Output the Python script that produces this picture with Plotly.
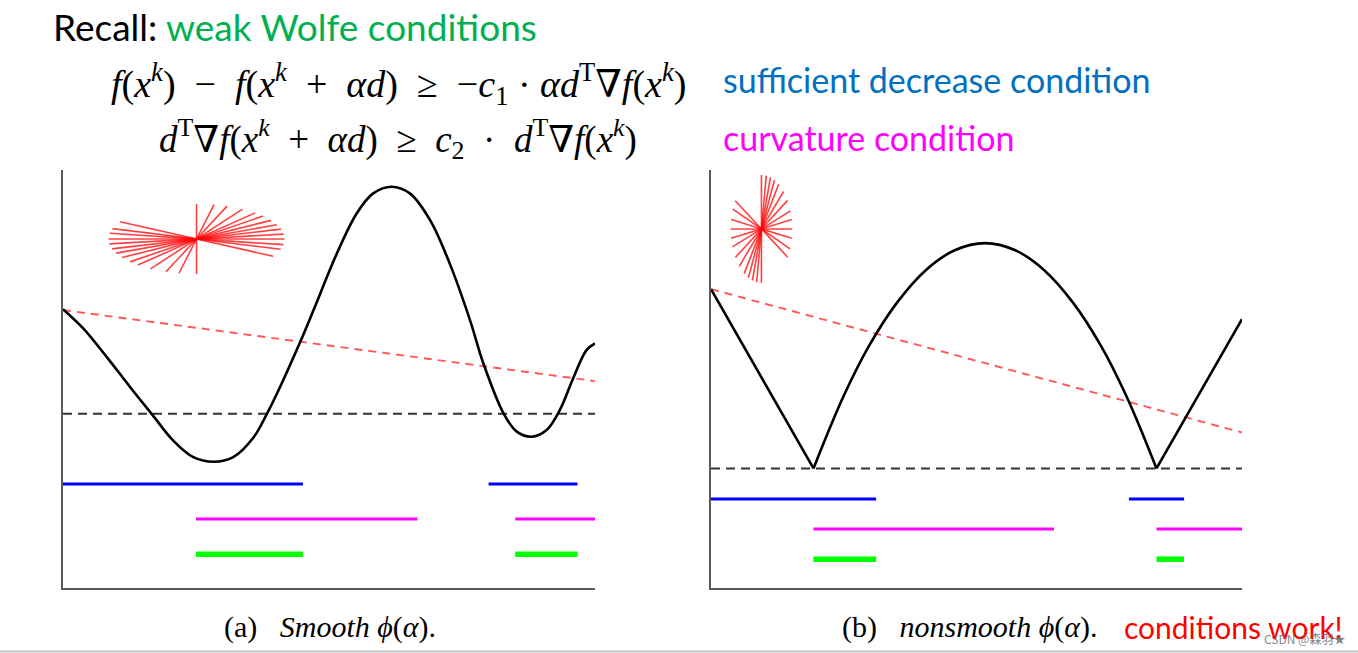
import plotly.graph_objects as go
import math

W, H = 1358, 653

# ---------------- data (arbitrary units, each panel 0..10 x 0..10) ----------------
# panel (a): smooth phi(alpha)
smooth_x = [0.0, 0.38, 0.82, 1.26, 1.67, 2.07, 2.45, 2.83, 3.20, 3.58, 3.83, 4.08, 4.46, 4.71,
            5.15, 5.52, 5.83, 6.18, 6.52, 6.90, 7.27, 7.65, 7.90, 8.28, 8.53, 8.81, 9.09, 9.34,
            9.59, 9.84, 10.0]
smooth_y = [6.67, 6.21, 5.53, 4.81, 4.16, 3.53, 3.13, 3.02, 3.13, 3.60, 4.16, 4.81, 5.89, 6.65,
            8.01, 8.96, 9.44, 9.60, 9.44, 8.80, 7.76, 6.41, 5.38, 4.18, 3.74, 3.62, 3.78, 4.26,
            5.02, 5.69, 5.85]
a_armijo_x = [0.0, 10.0]
a_armijo_y = [6.65, 4.95]
a_min_level = 4.17
a_suff = [(0.0, 4.51), (8.0, 9.67)]
a_curv = [(2.50, 6.66), (8.50, 10.0)]
a_both = [(2.50, 4.51), (8.50, 9.67)]
a_bar_y = [2.49, 1.65, 0.81]
a_fan_center = (2.51, 8.35)
a_fan_axes = (1.654, 0.837)
a_fan_angles = [90, 78.5, 69.7, 58.5, 48.2, 40.9, 32.1, 23.9, 16.4, 8.0, 0, -9.3, -17.2, -29.6]

# panel (b): nonsmooth phi(alpha)
ns_left_x = [0.0, 1.93]
ns_left_y = [7.15, 2.86]
ns_arc_x = [1.93, 2.17, 2.50, 2.97, 3.51, 4.05, 4.59, 5.16, 5.73, 6.27, 6.81, 7.35, 7.82, 8.15, 8.39]
ns_arc_y = [2.86, 3.62, 4.60, 5.78, 6.84, 7.61, 8.08, 8.25, 8.08, 7.61, 6.84, 5.78, 4.60, 3.62, 2.86]
ns_right_x = [8.39, 10.0]
ns_right_y = [2.86, 6.43]
b_armijo_x = [0.0, 10.0]
b_armijo_y = [7.15, 3.72]
b_min_level = 2.86
b_suff = [(0.0, 3.11), (7.87, 8.91)]
b_curv = [(1.93, 6.46), (8.39, 10.0)]
b_both = [(1.93, 3.11), (8.39, 8.91)]
b_bar_y = [2.13, 1.41, 0.69]
b_fan_center = (0.95, 8.59)
b_fan_axes = (0.58, 1.29)
b_fan_angles = [90, 81, 73, 65, 56, 44, 32, 19.5, 10, 0, -10, -21.6, -31.6]

# ---------------- layout geometry (pixels) ----------------
PA = dict(x0=63, x1=595)
PB = dict(x0=711, x1=1242)
Y_TOP, Y_BOT = 170, 588


def segs(intervals, level):
    xs, ys = [], []
    for a, b in intervals:
        xs += [a, b, None]
        ys += [level, level, None]
    return xs, ys


def fan(center, axes, angles):
    cx, cy = center
    ax, ay = axes
    xs, ys = [], []
    for ang in angles:
        r = math.radians(ang)
        dx, dy = ax * math.cos(r), ay * math.sin(r)
        xs += [cx - dx, cx + dx, None]
        ys += [cy - dy, cy + dy, None]
    return xs, ys


fig = go.Figure()


def add_panel(xa, ya, curves, armx, army, minlvl, suff, curv, both, bary, fanc, fana, fanang):
    kw = dict(xaxis=xa, yaxis=ya, showlegend=False, hoverinfo="skip", mode="lines")
    fx, fy = fan(fanc, fana, fanang)
    fig.add_trace(go.Scatter(x=fx, y=fy, line=dict(color="rgba(255,0,0,0.75)", width=1.6), **kw))
    fig.add_trace(go.Scatter(x=[0, 10], y=[minlvl, minlvl],
                             line=dict(color="#333333", width=2, dash="9px,6px"), **kw))
    fig.add_trace(go.Scatter(x=armx, y=army,
                             line=dict(color="rgba(255,70,70,0.9)", width=1.9, dash="8px,6px"), **kw))
    for cx, cy, shape in curves:
        fig.add_trace(go.Scatter(x=cx, y=cy, line=dict(color="black", width=2.6, shape=shape,
                                                       smoothing=1.0 if shape == "spline" else None), **kw))
    for ints, lvl, col, w in [(suff, bary[0], "#0000FF", 3), (curv, bary[1], "#FF00FF", 3),
                              (both, bary[2], "#00FF00", 5.5)]:
        sx, sy = segs(ints, lvl)
        fig.add_trace(go.Scatter(x=sx, y=sy, line=dict(color=col, width=w), **kw))


add_panel("x", "y", [(smooth_x, smooth_y, "spline")], a_armijo_x, a_armijo_y, a_min_level,
          a_suff, a_curv, a_both, a_bar_y, a_fan_center, a_fan_axes, a_fan_angles)
add_panel("x2", "y2", [(ns_left_x, ns_left_y, "linear"), (ns_arc_x, ns_arc_y, "spline"),
                       (ns_right_x, ns_right_y, "linear")],
          b_armijo_x, b_armijo_y, b_min_level,
          b_suff, b_curv, b_both, b_bar_y, b_fan_center, b_fan_axes, b_fan_angles)

ax_common = dict(range=[0, 10], showline=True, linecolor="#5a5a5a", linewidth=1.5, showgrid=False,
                 zeroline=False, showticklabels=False, ticks="", fixedrange=True)
ydom = [1 - Y_BOT / H, 1 - Y_TOP / H]
fig.update_layout(
    width=W, height=H, margin=dict(l=0, r=0, t=0, b=0),
    paper_bgcolor="white", plot_bgcolor="rgba(0,0,0,0)",
    xaxis=dict(domain=[PA["x0"] / W, PA["x1"] / W], anchor="y", **ax_common),
    yaxis=dict(domain=ydom, anchor="x", **ax_common),
    xaxis2=dict(domain=[PB["x0"] / W, PB["x1"] / W], anchor="y2", **ax_common),
    yaxis2=dict(domain=ydom, anchor="x2", **ax_common),
)

SANS = "Lato, 'Open Sans', sans-serif"
SERIF = "'Liberation Serif', 'DejaVu Serif', serif"


def ann(text, px, py, size, family, color="black", xanchor="left"):
    fig.add_annotation(text=text, x=px / W, y=1 - py / H, xref="paper", yref="paper",
                       xanchor=xanchor, yanchor="middle", showarrow=False,
                       font=dict(size=size, family=family, color=color))


S = "\u00a0"  # extra math spacing
ann("Recall: <span style='color:#00B050'>weak Wolfe conditions</span>", 51, 27, 37, SANS)
ann(f"<i>f</i>(<i>x</i><sup><i>k</i></sup>){S} − {S}<i>f</i>(<i>x</i><sup><i>k</i></sup>{S} + {S}<i>αd</i>){S} ≥ {S}−<i>c</i><sub>1</sub>{S}·{S}<i>αd</i><sup>T</sup>∇<i>f</i>(<i>x</i><sup><i>k</i></sup>)",
    398, 84, 38, SERIF, xanchor="center")
ann(f"<i>d</i><sup>T</sup>∇<i>f</i>(<i>x</i><sup><i>k</i></sup>{S} + {S}<i>αd</i>){S} ≥ {S}<i>c</i><sub>2</sub>{S} · {S}<i>d</i><sup>T</sup>∇<i>f</i>(<i>x</i><sup><i>k</i></sup>)",
    398, 139, 37, SERIF, xanchor="center")
ann("sufficient decrease condition", 721, 80, 34, SANS, color="#0070C0")
ann("curvature condition", 721, 138, 34, SANS, color="#FF00FF")
ann(f"(a){S}{S}{S}<i>Smooth{S}ϕ</i>(<i>α</i>).", 330, 627, 30, SERIF, xanchor="center")
ann(f"(b){S}{S}{S}<i>nonsmooth{S}ϕ</i>(<i>α</i>).", 969, 627, 30, SERIF, xanchor="center")
ann("conditions work!", 1122, 627, 30, SANS, color="#FF0000")
ann("CSDN @森羽★", 1347, 638, 12, "'Noto Sans CJK SC', sans-serif", color="rgba(110,110,110,0.85)",
    xanchor="right")

fig.add_shape(type="line", xref="paper", yref="paper", x0=0, x1=1, y0=1 - 651.5 / H, y1=1 - 651.5 / H,
              line=dict(color="#c4c4c4", width=2))

fig.write_html("out.html", config={"displayModeBar": False},
               post_script="document.body.style.margin='0';document.body.style.overflow='hidden';")
